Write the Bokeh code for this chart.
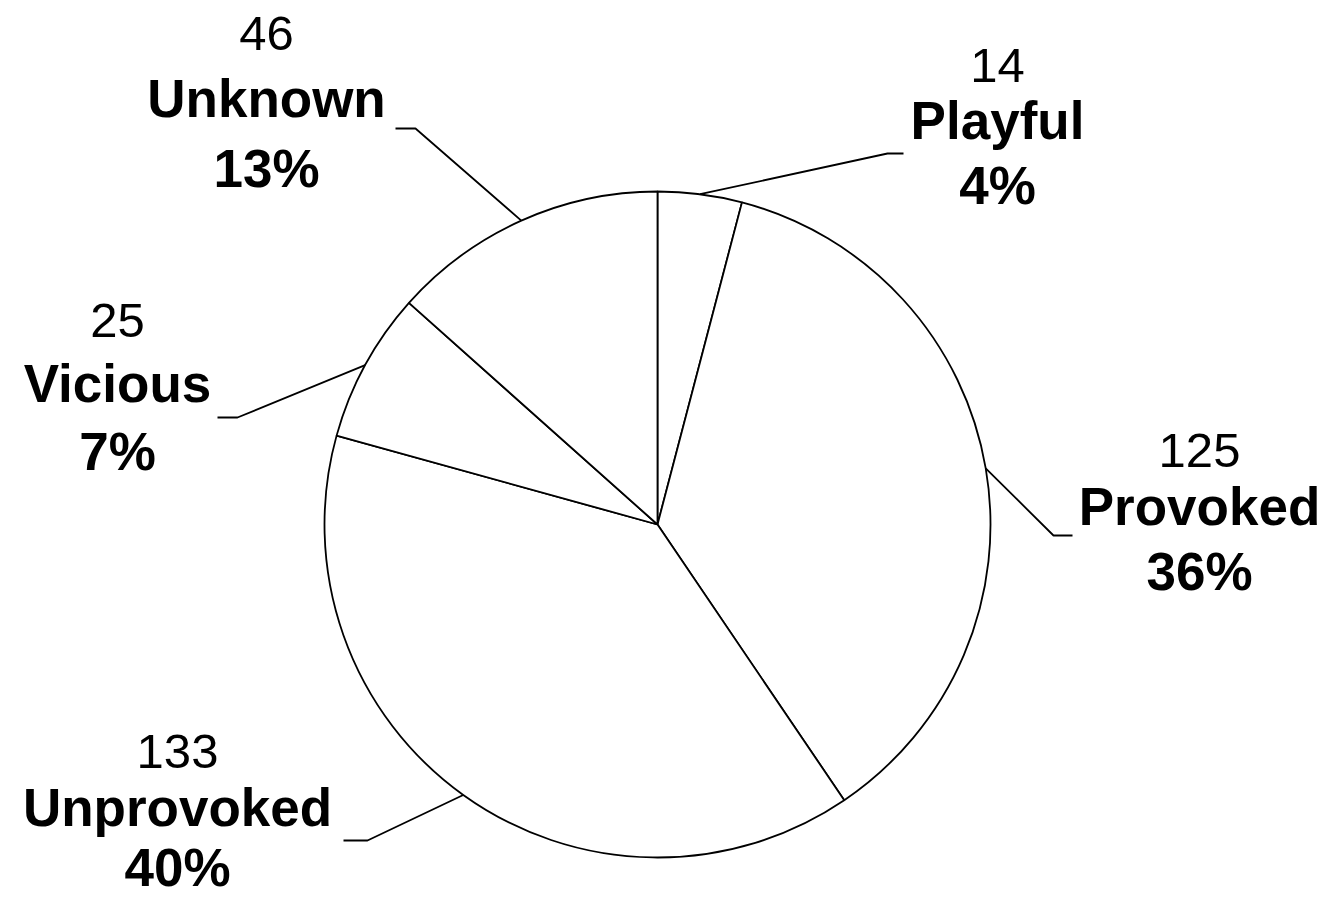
import math
from bokeh.plotting import figure
from bokeh.models import Range1d, ColumnDataSource
from bokeh.core.properties import value
from bokeh.embed import file_html
from bokeh.resources import INLINE

# ---- data ----
categories = ["Playful", "Provoked", "Unprovoked", "Vicious", "Unknown"]
counts = [14, 125, 133, 25, 46]
pct_labels = ["4%", "36%", "40%", "7%", "13%"]

# ---- layout (pixel positions, image coordinates with y down) ----
W, H = 1327, 897
CX, CY, R = 657, 524, 333
label_cx = [997, 1199, 177, 117, 266]
baselines = [[82, 137, 202], [467, 523, 588], [768, 824, 884], [337, 400, 468], [50, 115, 185]]
elbows = [(887, 153), (1053, 535), (367, 840), (237, 417), (415, 128)]
ends = [(903, 153), (1072, 535), (343, 840), (217, 417), (395, 128)]
TEXT_SHIFT = 17  # renderer places the text lower than the given baseline
FONT = "Liberation Sans"


def fy(y):
    return H - y


def ty(y):
    return H - (y - TEXT_SHIFT)


p = figure(width=W, height=H, x_range=Range1d(0, W), y_range=Range1d(0, H),
           output_backend="svg", toolbar_location=None,
           x_axis_location=None, y_axis_location=None, min_border=0,
           outline_line_color=None, background_fill_color="white",
           border_fill_color="white")
p.xgrid.visible = False
p.ygrid.visible = False

total = sum(counts)
starts, stops, mids = [], [], []
cum = 0
for c in counts:
    a0 = 2 * math.pi * cum / total
    a1 = 2 * math.pi * (cum + c) / total
    starts.append(math.pi / 2 - a0)
    stops.append(math.pi / 2 - a1)
    mids.append((a0 + a1) / 2)
    cum += c

src = ColumnDataSource(dict(start=starts, end=stops, cat=categories, n=counts))
p.wedge(x=CX, y=fy(CY), radius=R, start_angle="start", end_angle="end",
        direction="clock", source=src, fill_color="white",
        line_color="black", line_width=1.8)

# leader lines
xs, ys = [], []
for m, (ex, ey), (tx, tyy) in zip(mids, elbows, ends):
    sx = CX + R * math.sin(m)
    sy = CY - R * math.cos(m)
    xs.append([sx, ex, tx])
    ys.append([fy(sy), fy(ey), fy(tyy)])
p.multi_line(xs=xs, ys=ys, line_color="black", line_width=1.8)

# labels
p.text(x=label_cx, y=[ty(b[0]) for b in baselines], text=[str(c) for c in counts],
       text_align="center", text_baseline="alphabetic",
       text_font=value(FONT), text_font_size="49px", text_color="black")
p.text(x=label_cx, y=[ty(b[1]) for b in baselines], text=categories,
       text_align="center", text_baseline="alphabetic",
       text_font=value(FONT), text_font_size="53px", text_font_style="bold",
       text_color="black")
p.text(x=label_cx, y=[ty(b[2]) for b in baselines], text=pct_labels,
       text_align="center", text_baseline="alphabetic",
       text_font=value(FONT), text_font_size="53px", text_font_style="bold",
       text_color="black")

open("out.html", "w").write(file_html(p, INLINE))
